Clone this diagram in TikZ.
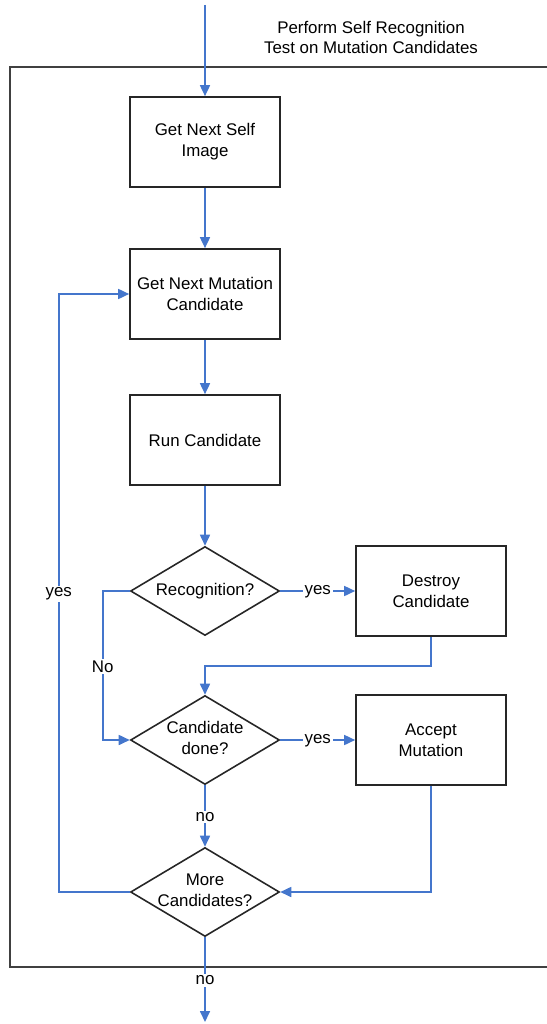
\documentclass[tikz,border=0pt]{standalone}
\usepackage{fontspec}
\setmainfont{Liberation Sans}
\usetikzlibrary{shapes.geometric,arrows.meta}

\definecolor{flowblue}{RGB}{68,118,204}
\tikzset{
  stepbox/.style={draw=black!85, line width=0.95pt, minimum width=3.0cm,
    minimum height=1.8cm, align=center, inner sep=0pt},
  decision/.style={draw=black!85, line width=0.9pt, shape=diamond,
    minimum width=2.98cm, minimum height=1.78cm, inner sep=0pt},
  flow/.style={draw=flowblue, line width=0.95pt,
    -{Triangle[length=0.22cm,width=0.2cm]}},
  tag/.style={fill=white, inner sep=1pt, yshift=-0.5pt},
}
\newcommand{\dtext}[1]{\makebox[0pt]{\begin{tabular}{@{}c@{}}#1\end{tabular}}}

\begin{document}
\begin{tikzpicture}[x=0.02cm, y=-0.02cm, font=\fontsize{9.6}{11.9}\selectfont]
    \useasboundingbox (0,0) rectangle (547,1024);
    % frame and title
    \draw[line width=1pt, black!75] (547,67) -- (10,67) -- (10,967) -- (547,967);
    \node[align=center] (title) at (371,37.5) {Perform Self Recognition\\Test on Mutation Candidates};

    \coordinate (in) at (205,5);
    \coordinate (out) at (205,1022);
    \node[stepbox] (self) at (205,142) {Get Next Self\\Image};
    \node[stepbox] (mut) at (205,294) {Get Next Mutation\\Candidate};
    \node[stepbox] (run) at (205,440) {Run Candidate};
    \node[decision] (recog) at (205,591) {\dtext{Recognition?}};
    \node[decision] (done) at (205,740) {\dtext{Candidate\\done?}};
    \node[decision] (more) at (205,892) {\dtext{More\\Candidates?}};
    \node[stepbox] (destroy) at (431,591) {Destroy\\Candidate};
    \node[stepbox] (accept) at (431,740) {Accept\\Mutation};

    % connectors
    \draw[flow] (in) -- (self);
    \draw[flow] (self) -- (mut);
    \draw[flow] (mut) -- (run);
    \draw[flow] (run) -- (recog);
    \draw[flow] (recog) -- node[tag]{yes} (destroy);
    \draw[flow] (recog.west) -- ++(-27,0) |- node[tag,pos=0.25]{No} (done.west);
    \draw[flow] (destroy.south) -- ++(0,29) -| (done.north);
    \draw[flow] (done) -- node[tag]{yes} (accept);
    \draw[flow] (done) -- node[tag]{no} (more);
    \draw[flow] (accept.south) |- (more.east);
    \draw[flow] (more.west) -- ++(-71,0) |- node[tag,pos=0.25]{yes} (mut.west);
    \draw[flow] (more) -- node[tag]{no} (out);
\end{tikzpicture}
\end{document}
